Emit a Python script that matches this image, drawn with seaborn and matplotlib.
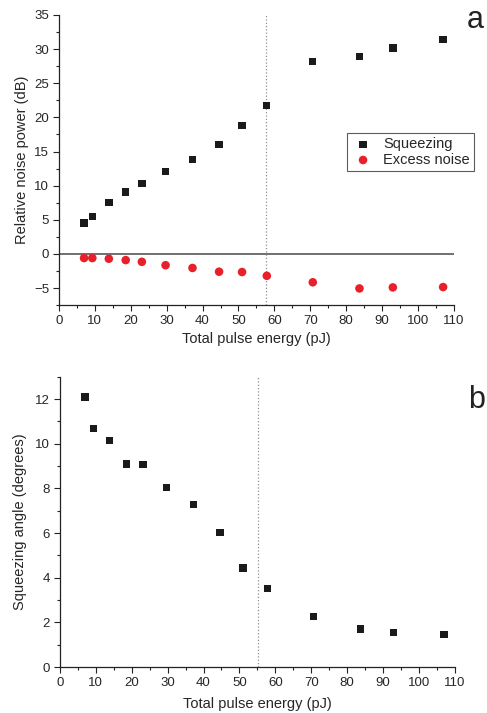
import numpy as np
import pandas as pd
import matplotlib
matplotlib.use("Agg")
import matplotlib.pyplot as plt
from matplotlib.ticker import MultipleLocator
import seaborn as sns

sns.set_style("ticks")
plt.rcParams['font.family'] = ['Liberation Sans', 'DejaVu Sans']

# pulse energies (pJ)
energy = [7.0, 9.3, 13.9, 18.6, 23.1, 29.7, 37.2, 44.6, 51.0, 57.9, 70.7, 83.7, 93.0, 107.0]
# panel a (dB)
squeezing = [4.55, 5.45, 7.55, 9.05, 10.35, 12.05, 13.85, 16.05, 18.85, 21.75, 28.2, 28.95, 30.15, 31.45]
excess = [-0.6, -0.6, -0.7, -0.9, -1.15, -1.65, -2.05, -2.6, -2.65, -3.2, -4.15, -5.05, -4.9, -4.85]
# panel b (degrees)
angle = [12.1, 10.68, 10.15, 9.1, 9.07, 8.05, 7.27, 6.03, 4.43, 3.53, 2.27, 1.7, 1.56, 1.47]

vline_a = 57.7
vline_b = 55.2

df = pd.DataFrame({'energy': energy, 'squeezing': squeezing,
                   'excess': excess, 'angle': angle})

fig = plt.figure(figsize=(4.87, 7.13), dpi=100)
ax1 = fig.add_axes([0.121, 0.572, 0.811, 0.407])
ax2 = fig.add_axes([0.123, 0.0645, 0.811, 0.407])

blk = '#1a1a1a'
red = '#e8202a'
lab_fs = 10.5
tick_fs = 9.5

ax1.axhline(0, color='#707070', lw=1.4, zorder=1)
ax1.axvline(vline_a, color='#909090', lw=0.9, ls=':', zorder=1)
sns.scatterplot(data=df, x='energy', y='squeezing', ax=ax1, marker='s', s=28,
                color=blk, edgecolor='none', label='Squeezing', zorder=3)
sns.scatterplot(data=df, x='energy', y='excess', ax=ax1, marker='o', s=38,
                color=red, edgecolor='none', label='Excess noise', zorder=3)
ax1.set_xlim(0, 110)
ax1.set_ylim(-7.5, 35)
ax1.yaxis.set_major_locator(MultipleLocator(5))
ax1.yaxis.set_minor_locator(MultipleLocator(2.5))
ax1.set_ylabel('Relative noise power (dB)', fontsize=lab_fs, labelpad=4)
ax1.set_xlabel('Total pulse energy (pJ)', fontsize=lab_fs, labelpad=4)
leg = ax1.legend(loc='upper left', bbox_to_anchor=(347 / 487, 1 - 133 / 713),
                 bbox_transform=fig.transFigure, frameon=True, fancybox=False,
                 fontsize=10.5, handletextpad=0.6, borderpad=0.3,
                 labelspacing=0.1, handlelength=1.6, borderaxespad=0)
leg.get_frame().set_edgecolor('#333333')
leg.get_frame().set_linewidth(0.8)
leg.set_clip_on(False)

ax2.axvline(vline_b, color='#909090', lw=0.9, ls=':', zorder=1)
sns.scatterplot(data=df, x='energy', y='angle', ax=ax2, marker='s', s=28,
                color=blk, edgecolor='none', zorder=3, legend=False)
ax2.set_xlim(0, 110)
ax2.set_ylim(0, 13)
ax2.yaxis.set_major_locator(MultipleLocator(2))
ax2.yaxis.set_minor_locator(MultipleLocator(1))
ax2.set_ylabel('Squeezing angle (degrees)', fontsize=lab_fs, labelpad=6)
ax2.set_xlabel('Total pulse energy (pJ)', fontsize=lab_fs, labelpad=6)

for ax in (ax1, ax2):
    ax.xaxis.set_major_locator(MultipleLocator(10))
    ax.xaxis.set_minor_locator(MultipleLocator(5))
    sns.despine(ax=ax)
    for sp in ('left', 'bottom'):
        ax.spines[sp].set_linewidth(0.9)
        ax.spines[sp].set_color('#222222')
    ax.tick_params(which='major', length=4, width=0.8, labelsize=tick_fs,
                   color='#222222', pad=3)
    ax.tick_params(which='minor', length=2.5, width=0.8, color='#222222')

fig.text(475 / 487, 1 - 20 / 713, 'a', fontsize=22, ha='center', va='center',
         color='#222222')
fig.text(477 / 487, 1 - 400 / 713, 'b', fontsize=22, ha='center', va='center',
         color='#222222')

fig.savefig('out.png', dpi=100)
